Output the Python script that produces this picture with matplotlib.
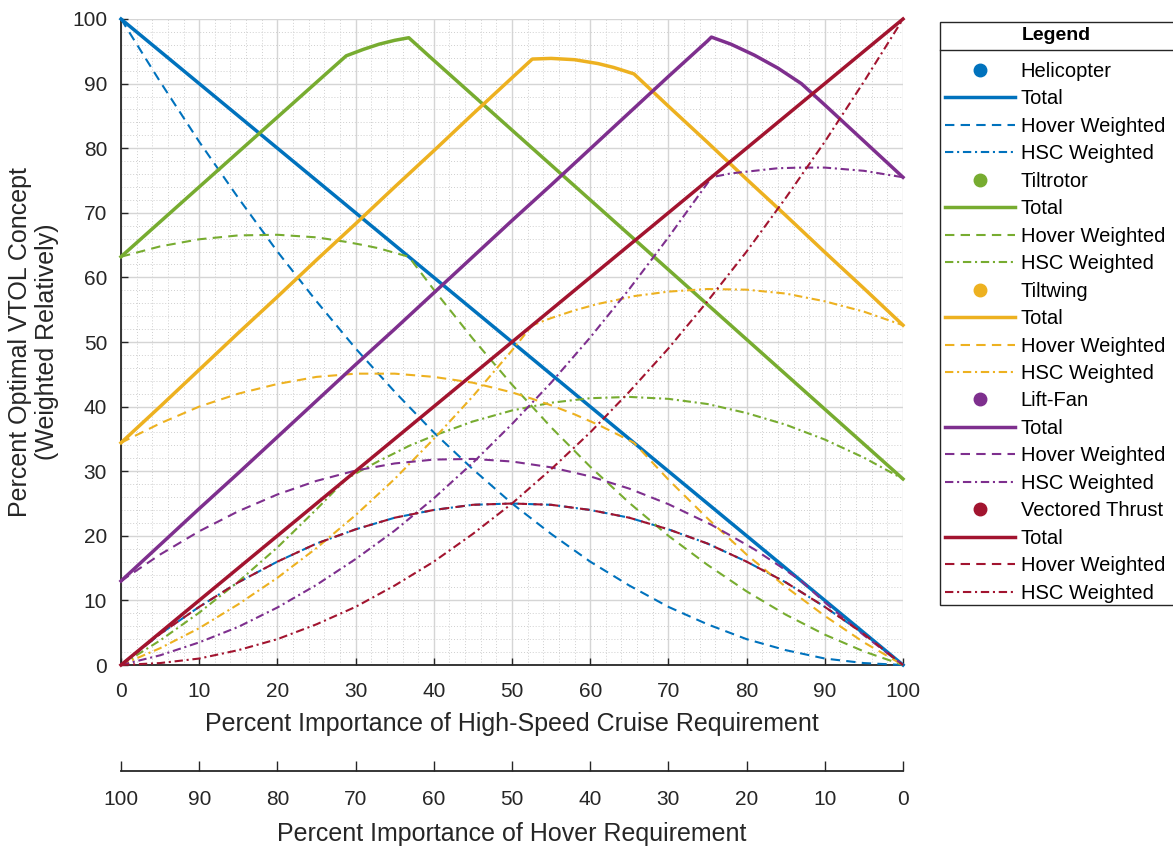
import matplotlib
matplotlib.use("Agg")
import matplotlib.pyplot as plt
from matplotlib.lines import Line2D
from matplotlib.patches import Rectangle
from matplotlib.ticker import MultipleLocator

plt.rcParams['font.family'] = ['Liberation Sans', 'DejaVu Sans']

# percent importance of high-speed cruise (x) for each concept
x_heli = [0, 5, 10, 15, 20, 25, 30, 35, 40, 45, 50, 55, 60, 65, 70, 75, 80, 85, 90, 95, 100]
heli_total = [100, 95, 90, 85, 80, 75, 70, 65, 60, 55, 50, 45, 40, 35, 30, 25, 20, 15, 10, 5, 0]
heli_hover = [100, 90.3, 81, 72.3, 64, 56.3, 49, 42.3, 36, 30.3, 25, 20.3, 16, 12.3, 9, 6.3, 4, 2.3, 1, 0.3, 0]
heli_hsc = [0, 4.8, 9, 12.8, 16, 18.8, 21, 22.8, 24, 24.8, 25, 24.8, 24, 22.8, 21, 18.8, 16, 12.8, 9, 4.8, 0]

x_tr = [0, 5, 10, 15, 20, 25, 28.8, 31, 33, 35, 36.8, 40, 45, 50, 55, 60, 65, 70, 75, 80, 85, 90, 95, 100]
tr_total = [63.2, 68.6, 74.0, 79.4, 84.8, 90.2, 94.3, 95.3, 96.1, 96.7, 97.1, 93.6, 88.2, 82.8, 77.4, 72.0,
            66.6, 61.2, 55.8, 50.4, 45.0, 39.6, 34.2, 28.8]
tr_hover = [63.2, 64.8, 65.9, 66.5, 66.6, 66.2, 65.5, 65.0, 64.5, 63.8, 63.2, 58.1, 50.5, 43.4, 36.8, 30.7,
            25.1, 20.0, 15.5, 11.4, 7.8, 4.7, 2.1, 0]
tr_hsc = [0, 3.8, 8.1, 12.9, 18.2, 24.1, 28.8, 30.3, 31.6, 32.8, 33.9, 35.5, 37.7, 39.4, 40.6, 41.3,
          41.5, 41.2, 40.4, 39.0, 37.2, 34.9, 32.1, 28.8]

x_tw = [0, 5, 10, 15, 20, 25, 30, 35, 40, 45, 50, 52.6, 55, 58, 61, 63, 65.6, 70, 75, 80, 85, 90, 95, 100]
tw_total = [34.4, 40.0, 45.7, 51.4, 57.0, 62.7, 68.3, 74.0, 79.6, 85.3, 90.9, 93.8, 93.9, 93.7, 93.1, 92.5,
            91.5, 86.5, 80.9, 75.2, 69.6, 63.9, 58.3, 52.6]
tw_hover = [34.4, 37.4, 40.0, 42.0, 43.5, 44.6, 45.1, 45.1, 44.6, 43.7, 42.2, 41.2, 40.2, 38.8, 37.2, 36.0,
            34.4, 28.7, 22.7, 17.1, 12.1, 7.6, 3.5, 0]
tw_hsc = [0, 2.6, 5.7, 9.4, 13.5, 18.1, 23.2, 28.8, 35.0, 41.6, 48.7, 52.6, 53.7, 54.9, 55.9, 56.4,
          57.1, 57.8, 58.2, 58.1, 57.5, 56.3, 54.7, 52.6]

x_lf = [0, 5, 10, 15, 20, 25, 30, 35, 40, 45, 50, 55, 60, 65, 70, 75, 75.5, 78, 81, 84, 87, 90, 95, 100]
lf_total = [13.0, 18.6, 24.2, 29.7, 35.3, 40.9, 46.5, 52.0, 57.6, 63.2, 68.8, 74.3, 79.9, 85.5, 91.1, 96.6,
            97.2, 96.1, 94.4, 92.4, 90.0, 86.7, 81.1, 75.5]
lf_hover = [13.0, 17.1, 20.7, 23.8, 26.4, 28.5, 30.1, 31.2, 31.8, 31.9, 31.5, 30.6, 29.2, 27.3, 24.9, 22.0,
            21.7, 20.0, 17.9, 15.5, 13.0, 9.7, 4.6, 0]
lf_hsc = [0, 1.5, 3.5, 5.9, 8.9, 12.4, 16.4, 20.8, 25.8, 31.3, 37.3, 43.7, 50.7, 58.2, 66.2, 74.6,
          75.5, 76.1, 76.5, 76.9, 77.0, 77.0, 76.5, 75.5]

x_vt = [0, 5, 10, 15, 20, 25, 30, 35, 40, 45, 50, 55, 60, 65, 70, 75, 80, 85, 90, 95, 100]
vt_total = [0, 5, 10, 15, 20, 25, 30, 35, 40, 45, 50, 55, 60, 65, 70, 75, 80, 85, 90, 95, 100]
vt_hover = [0, 4.8, 9, 12.8, 16, 18.8, 21, 22.8, 24, 24.8, 25, 24.8, 24, 22.8, 21, 18.8, 16, 12.8, 9, 4.8, 0]
vt_hsc = [0, 0.3, 1, 2.3, 4, 6.3, 9, 12.3, 16, 20.3, 25, 30.3, 36, 42.3, 49, 56.3, 64, 72.3, 81, 90.3, 100]

concepts = [
    ("Helicopter", "#0072BD", x_heli, heli_total, heli_hover, heli_hsc),
    ("Tiltrotor", "#77AC30", x_tr, tr_total, tr_hover, tr_hsc),
    ("Tiltwing", "#EDB120", x_tw, tw_total, tw_hover, tw_hsc),
    ("Lift-Fan", "#7E2F8E", x_lf, lf_total, lf_hover, lf_hsc),
    ("Vectored Thrust", "#A2142F", x_vt, vt_total, vt_hover, vt_hsc),
]

ticks = [0, 10, 20, 30, 40, 50, 60, 70, 80, 90, 100]
dark = "#262626"
W, H = 1173, 847

fig = plt.figure(figsize=(W / 100, H / 100), dpi=100)
ax = fig.add_axes([121 / W, (H - 665) / H, 782 / W, 646 / H])

dash = (4.5, 3)
dashdot = (4, 1.8, 1, 1.8)
handles = []
labels = []
for name, col, xs, tot, hov, hsc in concepts:
    ax.plot(xs, tot, color=col, lw=2.5, clip_on=False, zorder=3)
    ax.plot(xs, hov, color=col, lw=1.5, ls=(0, dash), clip_on=False, zorder=3)
    ax.plot(xs, hsc, color=col, lw=1.5, ls=(0, dashdot), clip_on=False, zorder=3)
    handles += [Line2D([], [], marker='o', ls='none', color=col, ms=9),
                Line2D([], [], color=col, lw=2.5),
                Line2D([], [], color=col, lw=1.5, ls=(0, dash)),
                Line2D([], [], color=col, lw=1.5, ls=(0, dashdot))]
    labels += [name, "Total", "Hover Weighted", "HSC Weighted"]

ax.set_xlim(0, 100)
ax.set_ylim(0, 100)
ax.set_xticks(ticks)
ax.set_yticks(ticks)
ax.xaxis.set_minor_locator(MultipleLocator(2))
ax.yaxis.set_minor_locator(MultipleLocator(2))
ax.grid(True, which='major', color='#d5d5d5', lw=1.0)
ax.grid(True, which='minor', color='#cfcfcf', lw=0.7, ls=(0, (1, 2)))
ax.set_axisbelow(True)
ax.tick_params(which='major', direction='in', length=5, width=1, color=dark,
               labelsize=15, labelcolor=dark, pad=10)
ax.tick_params(axis='x', which='major', pad=12)
ax.tick_params(which='minor', length=0)
for s in ['top', 'right']:
    ax.spines[s].set_visible(False)
for s in ['left', 'bottom']:
    ax.spines[s].set_color(dark)
    ax.spines[s].set_linewidth(1.3)
ax.set_xlabel("Percent Importance of High-Speed Cruise Requirement", fontsize=18, color=dark, labelpad=8)
ax.set_ylabel("Percent Optimal VTOL Concept\n(Weighted Relatively)", fontsize=18, color=dark, labelpad=9)

# hover importance axis underneath (reversed scale)
ax2 = fig.add_axes([121 / W, (H - 771) / H, 782 / W, 0.0001])
ax2.set_xlim(100, 0)
ax2.set_xticks(ticks)
ax2.set_yticks([])
for s in ['top', 'left', 'right']:
    ax2.spines[s].set_visible(False)
ax2.spines['bottom'].set_color(dark)
ax2.spines['bottom'].set_linewidth(1.3)
ax2.tick_params(direction='in', length=7, width=1, color=dark, labelsize=15, labelcolor=dark, pad=14)
ax2.set_xlabel("Percent Importance of Hover Requirement", fontsize=18, color=dark, labelpad=9)
ax2.patch.set_visible(False)

# legend box with title row
fig.patches.append(Rectangle((940 / W, (H - 605) / H), 240 / W, 583 / H, transform=fig.transFigure,
                             facecolor='white', edgecolor=dark, lw=1.0, zorder=0))
fig.add_artist(Line2D([940 / W, 1180 / W], [(H - 50) / H] * 2, color=dark, lw=1.0, transform=fig.transFigure))
fig.text(1056 / W, (H - 36) / H, "Legend", fontsize=14, fontweight='bold', ha='center', va='center')
fig.legend(handles, labels, loc='upper left', bbox_to_anchor=(945 / W, (H - 62) / H), frameon=False,
           fontsize=14.5, handlelength=3.5, handletextpad=0.25, labelspacing=0.42,
           borderaxespad=0, borderpad=0)

fig.savefig("out.png", dpi=100, facecolor='white')
